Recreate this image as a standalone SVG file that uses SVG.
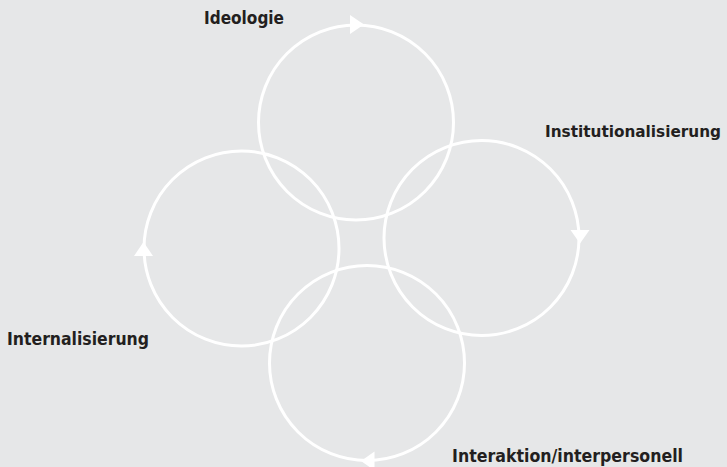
<svg xmlns="http://www.w3.org/2000/svg" width="727" height="467" viewBox="0 0 727 467">
<style>
.c{fill:none;stroke:#ffffff;stroke-width:3}
.a{fill:#ffffff}
.t{font-family:"DejaVu Sans Condensed","DejaVu Sans","Liberation Sans",sans-serif;font-weight:bold;font-size:18px;fill:#231f20}
</style>
<rect width="727" height="467" fill="#e6e7e8"/>
<g id="connectors">
<circle class="c" cx="356" cy="122.5" r="97.5"/>
<circle class="c" cx="481.5" cy="238" r="97.5"/>
<circle class="c" cx="241.5" cy="248.5" r="97.5"/>
<circle class="c" cx="367" cy="363" r="97.5"/>
<polygon class="a" points="350,15 350,34 364,24.5"/>
<polygon class="a" points="570.5,230 589.5,230 580,243.5"/>
<polygon class="a" points="134,256 153,256 143.5,242"/>
<polygon class="a" points="374.5,451.5 374.5,470.5 361,461"/>
</g>
<g id="ideologie"><text class="t" x="204" y="24" textLength="80" lengthAdjust="spacingAndGlyphs">Ideologie</text></g>
<g id="institutionalisierung"><text class="t" x="545" y="137" style="font-size:16.5px" textLength="176" lengthAdjust="spacingAndGlyphs">Institutionalisierung</text></g>
<g id="internalisierung"><text class="t" x="7" y="345" textLength="142" lengthAdjust="spacingAndGlyphs">Internalisierung</text></g>
<g id="interaktion"><text class="t" x="452" y="462" textLength="231" lengthAdjust="spacingAndGlyphs">Interaktion/interpersonell</text></g>
</svg>
